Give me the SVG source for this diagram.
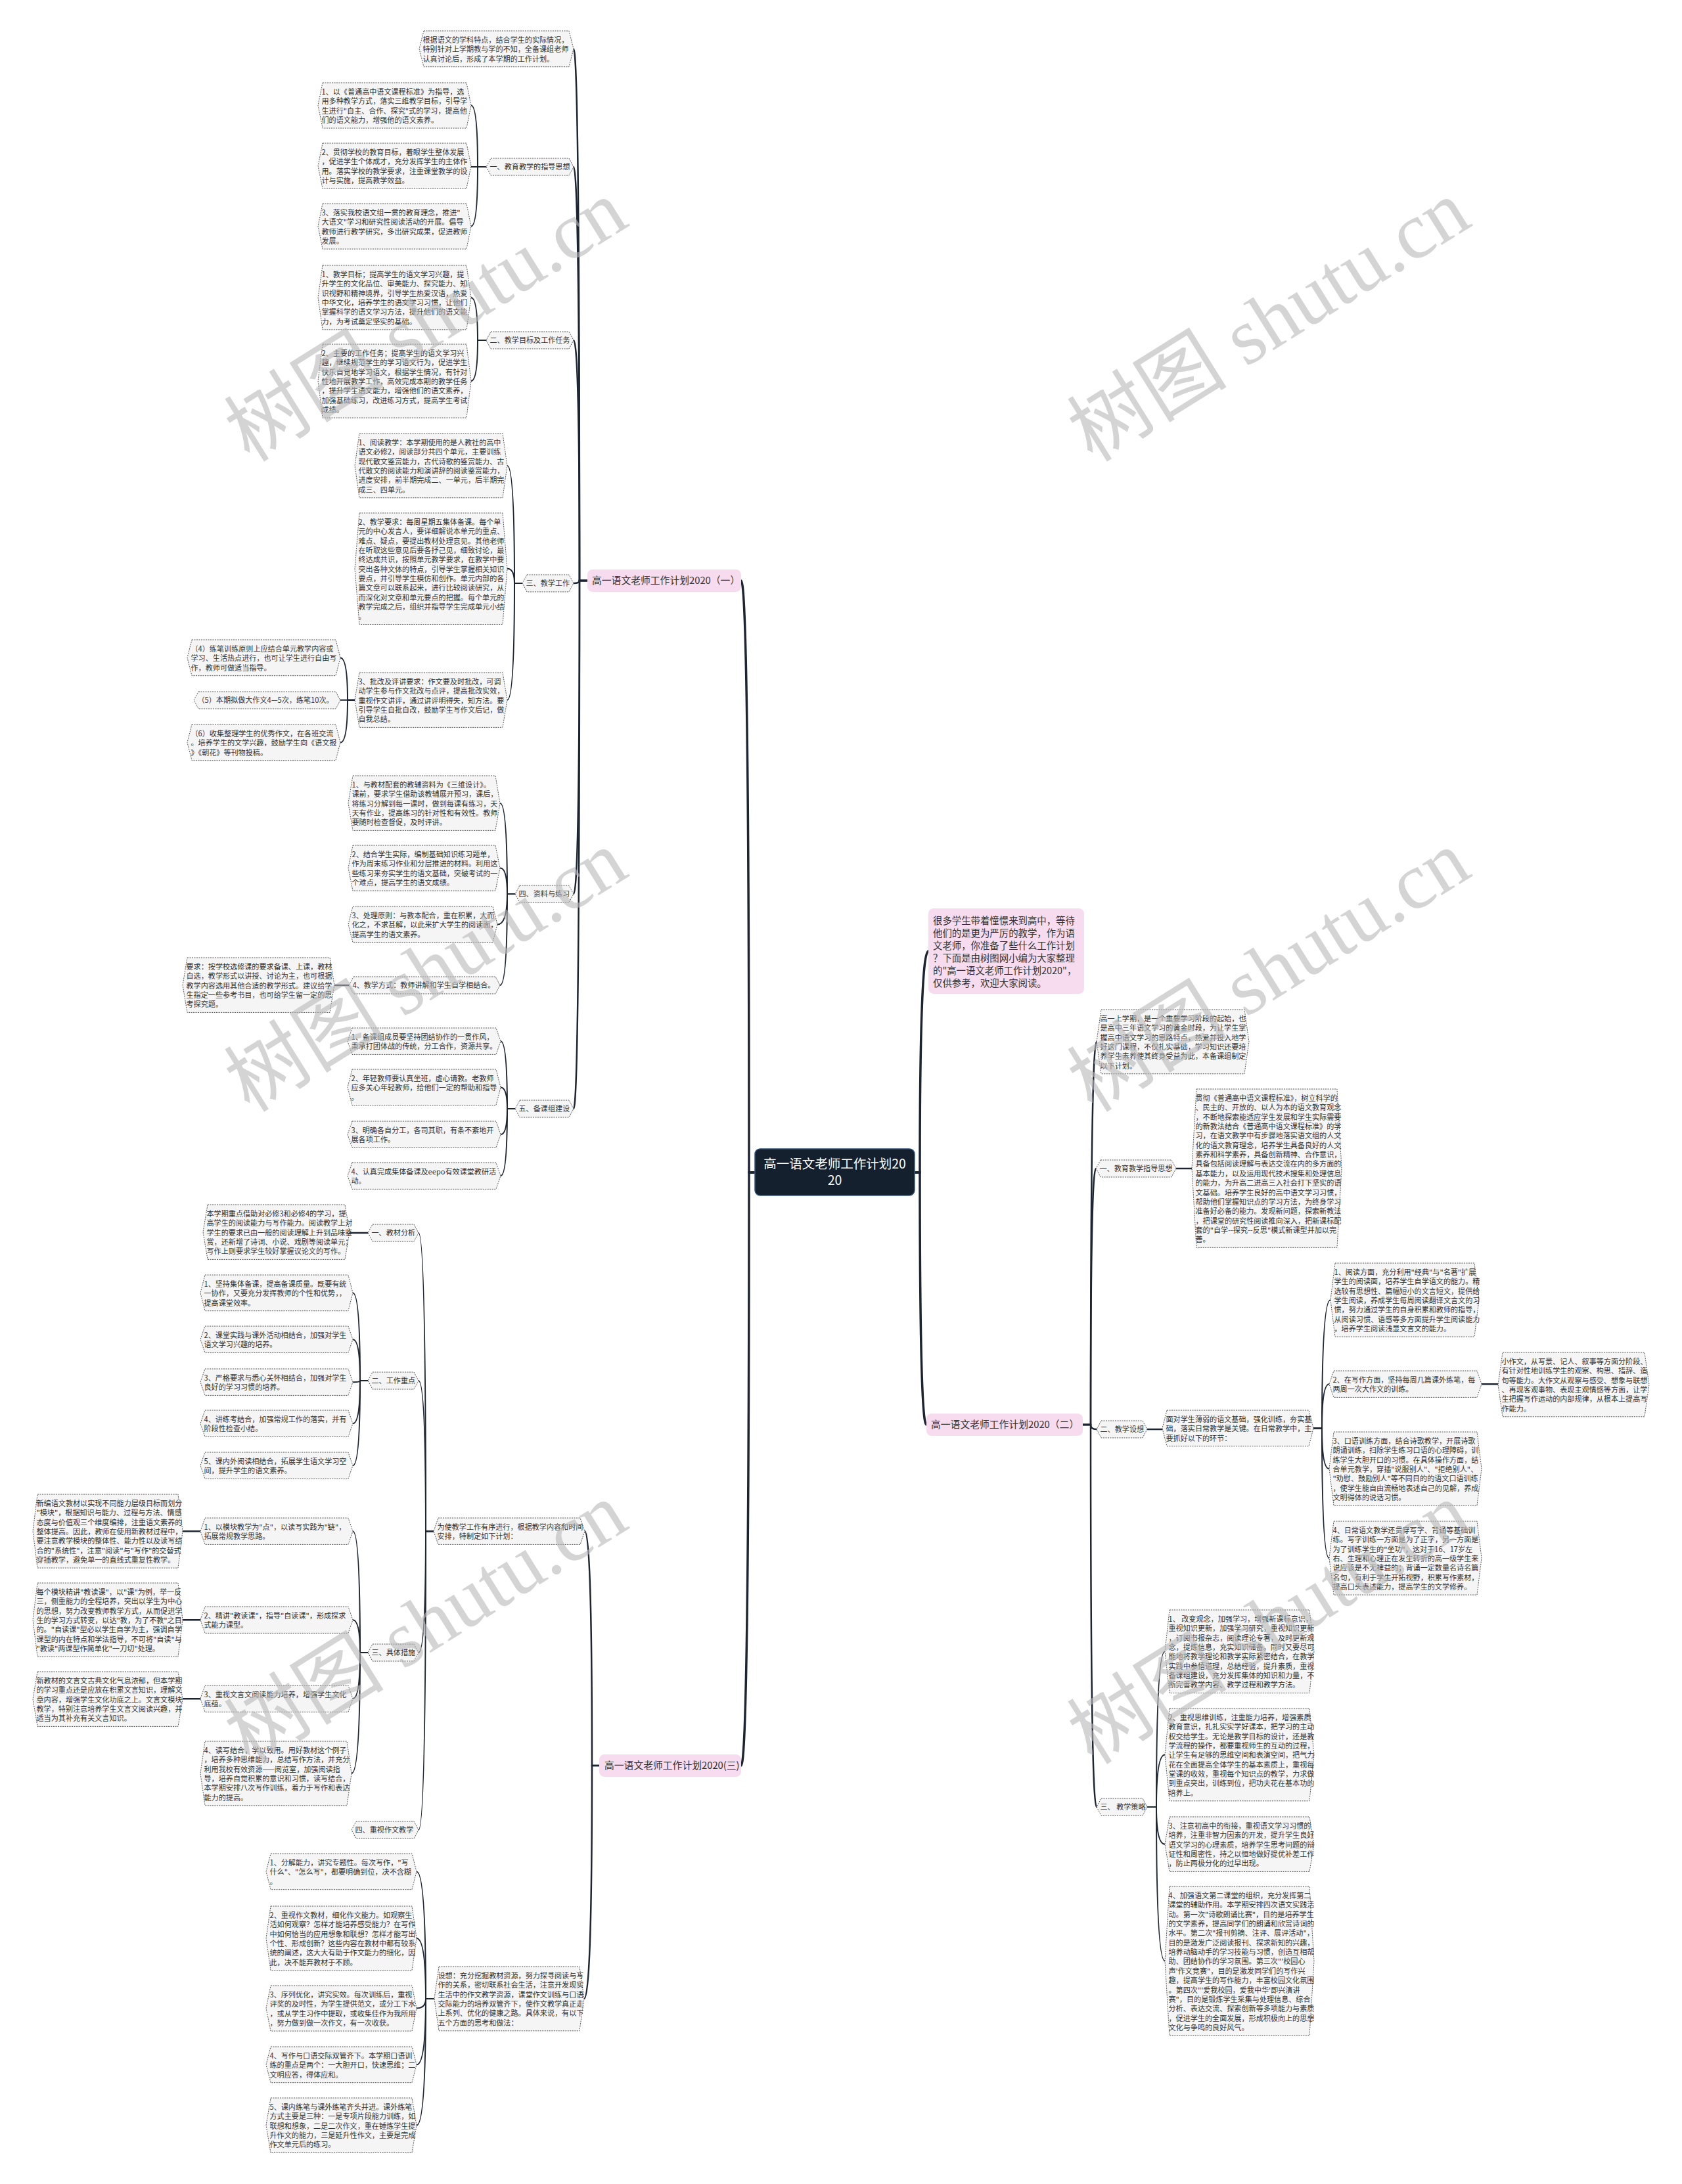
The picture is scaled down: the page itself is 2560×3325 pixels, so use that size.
<svg xmlns="http://www.w3.org/2000/svg" width="2560" height="3325" viewBox="0 0 2560 3325">
<style>
.n{fill:#f5f5f5;stroke:#555;stroke-width:1;stroke-dasharray:2 1.5}
.t{font-family:"Noto Sans CJK SC","Noto Sans",sans-serif;font-size:11.1px;fill:#333}
.p{fill:#f6dcee}
.pt{font-family:"Noto Sans CJK SC","Noto Sans",sans-serif;font-size:14.8px;fill:#333}
.c{fill:none;stroke:#1d2533;stroke-linecap:round}
.c1{stroke-width:3.5}
.c2{stroke-width:2.5}
.c3{stroke-width:2}
.wm{font-family:"Liberation Serif","Noto Sans CJK SC",serif;font-size:122px;fill:#b8b8b8;fill-opacity:0.6}
</style>
<rect width="2560" height="3325" fill="#ffffff"/>

<g id="connectors">
<path class="c c1" d="M1149,1785 H1140 Q1140,884 1128,884"/>
<path class="c c1" d="M1149,1785 H1140 Q1140,2688 1128,2688"/>
<path class="c c1" d="M1392,1785 H1400 Q1400,1448 1413,1448"/>
<path class="c c1" d="M1392,1785 H1400 Q1400,2169 1410,2169"/>

<path class="c c2" d="M894,884 H882 Q882,74.4 873,74.4"/>
<path class="c c2" d="M894,884 H882 Q882,254 873,254"/>
<path class="c c2" d="M894,884 H882 Q882,518 873,518"/>
<path class="c c2" d="M894,884 H882 Q882,888 873,888"/>
<path class="c c2" d="M894,884 H882 Q882,1361 873,1361"/>
<path class="c c2" d="M894,884 H882 Q882,1688 873,1688"/>

<path class="c c3" d="M740,254 H727 Q727,160.5 717,160.5"/>
<path class="c c3" d="M740,254 H717"/>
<path class="c c3" d="M740,254 H727 Q727,344.5 717,344.5"/>
<path class="c c3" d="M740,518 H727 Q727,452.9 717,452.9"/>
<path class="c c3" d="M740,518 H727 Q727,580 717,580"/>
<path class="c c3" d="M795,888 H783 Q783,708.9 772,708.9"/>
<path class="c c3" d="M795,888 H783 Q783,865.8 772,865.8"/>
<path class="c c3" d="M795,888 H783 Q783,1065.7 772,1065.7"/>
<path class="c c3" d="M540,1065.7 H529 Q529,1001.4 518,1001.4"/>
<path class="c c3" d="M540,1065.7 H518"/>
<path class="c c3" d="M540,1065.7 H529 Q529,1130.4 518,1130.4"/>
<path class="c c3" d="M784,1361 H772 Q772,1222.7 761,1222.7"/>
<path class="c c3" d="M784,1361 H772 Q772,1321.5 761,1321.5"/>
<path class="c c3" d="M784,1361 H772 Q772,1407.4 757,1407.4"/>
<path class="c c3" d="M784,1361 H772 Q772,1500 761,1500"/>
<path class="c c2" d="M531,1500 H509"/>
<path class="c c3" d="M784,1688 H772 Q772,1585.2 762,1585.2"/>
<path class="c c3" d="M784,1688 H772 Q772,1655.4 762,1655.4"/>
<path class="c c3" d="M784,1688 H772 Q772,1727.2 762,1727.2"/>
<path class="c c3" d="M784,1688 H772 Q772,1790.2 762,1790.2"/>

<path class="c c2" d="M912,2688 H901 Q901,2331.2 890,2331.2"/>
<path class="c c2" d="M912,2688 H901 Q901,3042.9 889,3042.9"/>
<path class="c c3" d="M660,2331.2 H648 Q648,1877 637,1877"/>
<path class="c c3" d="M660,2331.2 H648 Q648,2102 637,2102"/>
<path class="c c3" d="M660,2331.2 H648 Q648,2516 637,2516"/>
<path class="c c3" d="M660,2331.2 H648 Q648,2786 637,2786"/>
<path class="c c2" d="M560,1877 H532"/>
<path class="c c3" d="M560,2102 H548 Q548,1968.4 537,1968.4"/>
<path class="c c3" d="M560,2102 H548 Q548,2039.2 537,2039.2"/>
<path class="c c3" d="M560,2102 H548 Q548,2104.2 537,2104.2"/>
<path class="c c3" d="M560,2102 H548 Q548,2167.2 537,2167.2"/>
<path class="c c3" d="M560,2102 H548 Q548,2231.2 537,2231.2"/>
<path class="c c3" d="M560,2516 H548 Q548,2331.2 537,2331.2"/>
<path class="c c3" d="M560,2516 H548 Q548,2466.2 537,2466.2"/>
<path class="c c3" d="M560,2516 H548 Q548,2586.2 537,2586.2"/>
<path class="c c3" d="M560,2516 H548 Q548,2699.9 535,2699.9"/>
<path class="c c2" d="M305,2331.2 H278"/>
<path class="c c2" d="M305,2466.2 H278"/>
<path class="c c2" d="M305,2586.2 H278"/>
<path class="c c3" d="M661,3042.9 H648 Q648,2849.4 634,2849.4"/>
<path class="c c3" d="M661,3042.9 H648 Q648,2950.9 634,2950.9"/>
<path class="c c3" d="M661,3042.9 H648 Q648,3057.5 634,3057.5"/>
<path class="c c3" d="M661,3042.9 H648 Q648,3143.4 634,3143.4"/>
<path class="c c3" d="M661,3042.9 H648 Q648,3235.7 634,3235.7"/>

<path class="c c2" d="M1648,2169 H1660 Q1660,1585.9 1669,1585.9"/>
<path class="c c2" d="M1648,2169 H1660 Q1660,1779 1668,1779"/>
<path class="c c2" d="M1648,2169 H1660 Q1660,2176 1669,2176"/>
<path class="c c2" d="M1648,2169 H1660 Q1660,2751 1669,2751"/>
<path class="c c2" d="M1790,1779 H1814"/>
<path class="c c2" d="M1746,2176 H1769"/>
<path class="c c3" d="M1999,2174.4 H2012 Q2012,1979 2025,1979"/>
<path class="c c3" d="M1999,2174.4 H2012 Q2012,2107.2 2023,2107.2"/>
<path class="c c3" d="M1999,2174.4 H2012 Q2012,2236 2023,2236"/>
<path class="c c3" d="M1999,2174.4 H2012 Q2012,2372 2023,2372"/>
<path class="c c2" d="M2255,2107.2 H2280"/>
<path class="c c3" d="M1746,2751 H1760 Q1760,2514.2 1773,2514.2"/>
<path class="c c3" d="M1746,2751 H1760 Q1760,2671.4 1773,2671.4"/>
<path class="c c3" d="M1746,2751 H1760 Q1760,2807.7 1773,2807.7"/>
<path class="c c3" d="M1746,2751 H1760 Q1760,2985.5 1773,2985.5"/>
</g>

<g id="root">
<rect x="1149" y="1749" width="243" height="71" rx="8" fill="#15202e" stroke="#33547e" stroke-width="1.5"/>
<text x="1270.5" y="1779" text-anchor="middle" font-family="Noto Sans CJK SC, sans-serif" font-size="19.5" fill="#ffffff">高一语文老师工作计划20<tspan x="1270.5" dy="25">20</tspan></text>
</g>

<g id="intro">
<rect class="p" x="1413" y="1383" width="237" height="130" rx="8"/>
<text class="pt" style="font-size:14.4px" x="1420" y="1407"><tspan x="1420">很多学生带着憧憬来到高中，等待</tspan><tspan x="1420" dy="19">他们的是更为严厉的教学，作为语</tspan><tspan x="1420" dy="19">文老师，你准备了些什么工作计划</tspan><tspan x="1420" dy="19">？下面是由树图网小编为大家整理</tspan><tspan x="1420" dy="19">的"高一语文老师工作计划2020"，</tspan><tspan x="1420" dy="19">仅供参考，欢迎大家阅读。</tspan></text>
</g>

<g id="b1">
<rect class="p" x="894" y="867" width="234" height="34" rx="8"/>
<text class="pt" x="901" y="889">高一语文老师工作计划2020（一）</text>
</g>
<g id="b2">
<rect class="p" x="1410" y="2152" width="238" height="34" rx="8"/>
<text class="pt" x="1417" y="2174">高一语文老师工作计划2020（二）</text>
</g>
<g id="b3">
<rect class="p" x="912" y="2671" width="216" height="34" rx="8"/>
<text class="pt" x="920" y="2693">高一语文老师工作计划2020(三)</text>
</g>

<g id="A0"><polygon class="n" points="645,47 866,47 873,74.4 866,101.7 645,101.7 638,74.4"/>
<text class="t" y="65"><tspan x="643.5">根据语文的学科特点，结合学生的实际情况，</tspan><tspan x="643.5" dy="14.35">特别针对上学期教与学的不知，全备课组老师</tspan><tspan x="643.5" dy="14.35">认真讨论后，形成了本学期的工作计划。</tspan></text></g>

<g id="B1"><polygon class="n" points="747,241 866,241 873,254 866,267 747,267 740,254"/>
<text class="t" x="745.5" y="258">一、教育教学的指导思想</text></g>
<g id="C1"><polygon class="n" points="491,126 710,126 717,160.5 710,195.1 491,195.1 484,160.5"/>
<text class="t" y="144"><tspan x="489.5">1、以《普通高中语文课程标准》为指导，选</tspan><tspan x="489.5" dy="14.35">用多种教学方式，落实三维教学目标，引导学</tspan><tspan x="489.5" dy="14.35">生进行"自主、合作、探究"式的学习，提高他</tspan><tspan x="489.5" dy="14.35">们的语文能力，增强他的语文素养。</tspan></text></g>
<g id="C2"><polygon class="n" points="491,218 710,218 717,252.5 710,287.1 491,287.1 484,252.5"/>
<text class="t" y="236"><tspan x="489.5">2、贯彻学校的教育目标，着眼学生整体发展</tspan><tspan x="489.5" dy="14.35">，促进学生个体成才，充分发挥学生的主体作</tspan><tspan x="489.5" dy="14.35">用。落实学校的教学要求，注重课堂教学的设</tspan><tspan x="489.5" dy="14.35">计与实施，提高教学效益。</tspan></text></g>
<g id="C3"><polygon class="n" points="491,310 710,310 717,344.5 710,379.1 491,379.1 484,344.5"/>
<text class="t" y="328"><tspan x="489.5">3、落实我校语文组一贯的教育理念，推进"</tspan><tspan x="489.5" dy="14.35">大语文"学习和研究性阅读活动的开展。倡导</tspan><tspan x="489.5" dy="14.35">教师进行教学研究，多出研究成果，促进教师</tspan><tspan x="489.5" dy="14.35">发展。</tspan></text></g>

<g id="B2"><polygon class="n" points="747,505 866,505 873,518 866,531 747,531 740,518"/>
<text class="t" x="745.5" y="522">二、教学目标及工作任务</text></g>
<g id="C4"><polygon class="n" points="491,404 710,404 717,452.9 710,501.8 491,501.8 484,452.9"/>
<text class="t" y="422"><tspan x="489.5">1、教学目标；提高学生的语文学习兴趣，提</tspan><tspan x="489.5" dy="14.35">升学生的文化品位、审美能力、探究能力、知</tspan><tspan x="489.5" dy="14.35">识视野和精神境界，引导学生热爱汉语，热爱</tspan><tspan x="489.5" dy="14.35">中华文化，培养学生的语文学习习惯，让他们</tspan><tspan x="489.5" dy="14.35">掌握科学的语文学习方法，提升他们的语文能</tspan><tspan x="489.5" dy="14.35">力，为考试奠定坚实的基础。</tspan></text></g>
<g id="C5"><polygon class="n" points="491,524 710,524 717,580 710,636.1 491,636.1 484,580"/>
<text class="t" y="542"><tspan x="489.5">2、主要的工作任务；提高学生的语文学习兴</tspan><tspan x="489.5" dy="14.35">趣，继续规范学生的学习语文行为，促进学生</tspan><tspan x="489.5" dy="14.35">快乐自觉地学习语文，根据学生情况，有针对</tspan><tspan x="489.5" dy="14.35">性地开展教学工作，高效完成本期的教学任务</tspan><tspan x="489.5" dy="14.35">，提升学生语文能力，增强他们的语文素养，</tspan><tspan x="489.5" dy="14.35">加强基础练习，改进练习方式，提高学生考试</tspan><tspan x="489.5" dy="14.35">成绩。</tspan></text></g>

<g id="B3"><polygon class="n" points="802,875 866,875 873,888 866,901 802,901 795,888"/>
<text class="t" x="800.5" y="892">三、教学工作</text></g>
<g id="C6"><polygon class="n" points="547,660 765,660 772,708.9 765,757.8 547,757.8 540,708.9"/>
<text class="t" y="678"><tspan x="545.5">1、阅读教学：本学期使用的是人教社的高中</tspan><tspan x="545.5" dy="14.35">语文必修2，阅读部分共四个单元，主要训练</tspan><tspan x="545.5" dy="14.35">现代散文鉴赏能力，古代诗歌的鉴赏能力、古</tspan><tspan x="545.5" dy="14.35">代散文的阅读能力和演讲辞的阅读鉴赏能力，</tspan><tspan x="545.5" dy="14.35">进度安排，前半期完成二、一单元，后半期完</tspan><tspan x="545.5" dy="14.35">成三、四单元。</tspan></text></g>
<g id="C7"><polygon class="n" points="547,781 765,781 772,865.8 765,950.5 547,950.5 540,865.8"/>
<text class="t" y="799"><tspan x="545.5">2、教学要求：每周星期五集体备课。每个单</tspan><tspan x="545.5" dy="14.35">元的中心发言人，要详细解说本单元的重点、</tspan><tspan x="545.5" dy="14.35">难点、疑点，要提出教材处理意见。其他老师</tspan><tspan x="545.5" dy="14.35">在听取这些意见后要各抒己见，细致讨论，最</tspan><tspan x="545.5" dy="14.35">终达成共识，按照单元教学要求，在教学中要</tspan><tspan x="545.5" dy="14.35">突出各种文体的特点，引导学生掌握相关知识</tspan><tspan x="545.5" dy="14.35">要点，并引导学生模仿和创作。单元内部的各</tspan><tspan x="545.5" dy="14.35">篇文章可以联系起来，进行比较阅读研究，从</tspan><tspan x="545.5" dy="14.35">而深化对文章和单元要点的把握。每个单元的</tspan><tspan x="545.5" dy="14.35">教学完成之后，组织并指导学生完成单元小结</tspan><tspan x="545.5" dy="14.35">。</tspan></text></g>
<g id="C8"><polygon class="n" points="547,1024 765,1024 772,1065.7 765,1107.4 547,1107.4 540,1065.7"/>
<text class="t" y="1042"><tspan x="545.5">3、批改及评讲要求：作文要及时批改，可调</tspan><tspan x="545.5" dy="14.35">动学生参与作文批改与点评，提高批改实效，</tspan><tspan x="545.5" dy="14.35">重视作文讲评，通过讲评明得失，知方法。要</tspan><tspan x="545.5" dy="14.35">引导学生自批自改，鼓励学生写作文后记，做</tspan><tspan x="545.5" dy="14.35">自我总结。</tspan></text></g>
<g id="D1"><polygon class="n" points="292,974 511,974 518,1001.4 511,1028.7 292,1028.7 285,1001.4"/>
<text class="t" y="992"><tspan x="290.5">（4）练笔训练原则上应结合单元教学内容或</tspan><tspan x="290.5" dy="14.35">学习、生活热点进行，也可让学生进行自由写</tspan><tspan x="290.5" dy="14.35">作，教师可做适当指导。</tspan></text></g>
<g id="D2"><polygon class="n" points="302,1053 511,1053 518,1066 511,1079 302,1079 295,1066"/>
<text class="t" x="300.5" y="1070">（5）本期拟做大作文4—5次，练笔10次。</text></g>
<g id="D3"><polygon class="n" points="292,1103 511,1103 518,1130.4 511,1157.7 292,1157.7 285,1130.4"/>
<text class="t" y="1121"><tspan x="290.5">（6）收集整理学生的优秀作文，在各班交流</tspan><tspan x="290.5" dy="14.35">。培养学生的文学兴趣，鼓励学生向《语文报</tspan><tspan x="290.5" dy="14.35">》《朝花》等刊物投稿。</tspan></text></g>

<g id="B4"><polygon class="n" points="791,1348 866,1348 873,1361 866,1374 791,1374 784,1361"/>
<text class="t" x="789.5" y="1365">四、资料与练习</text></g>
<g id="C9"><polygon class="n" points="537,1181 754,1181 761,1222.7 754,1264.4 537,1264.4 530,1222.7"/>
<text class="t" y="1199"><tspan x="535.5">1、与教材配套的教辅资料为《三维设计》。</tspan><tspan x="535.5" dy="14.35">课前，要求学生借助该教辅展开预习，课后，</tspan><tspan x="535.5" dy="14.35">将练习分解到每一课时，做到每课有练习，天</tspan><tspan x="535.5" dy="14.35">天有作业，提高练习的针对性和有效性。教师</tspan><tspan x="535.5" dy="14.35">要随时检查督促，及时评讲。</tspan></text></g>
<g id="C10"><polygon class="n" points="537,1287 754,1287 761,1321.5 754,1356.1 537,1356.1 530,1321.5"/>
<text class="t" y="1305"><tspan x="535.5">2、结合学生实际，编制基础知识练习题单，</tspan><tspan x="535.5" dy="14.35">作为周末练习作业和分层推进的材料。利用这</tspan><tspan x="535.5" dy="14.35">些练习来夯实学生的语文基础，突破考试的一</tspan><tspan x="535.5" dy="14.35">个难点，提高学生的语文成绩。</tspan></text></g>
<g id="C11"><polygon class="n" points="537,1380 750,1380 757,1407.4 750,1434.7 537,1434.7 530,1407.4"/>
<text class="t" y="1398"><tspan x="535.5">3、处理原则：与教本配合，重在积累，大而</tspan><tspan x="535.5" dy="14.35">化之，不求甚解，以此来扩大学生的阅读面，</tspan><tspan x="535.5" dy="14.35">提高学生的语文素养。</tspan></text></g>
<g id="C12"><polygon class="n" points="538,1487 754,1487 761,1500 754,1513 538,1513 531,1500"/>
<text class="t" x="536.5" y="1504">4、教学方式：教师讲解和学生自学相结合。</text></g>
<g id="D4"><polygon class="n" points="285,1458 502,1458 509,1499.7 502,1541.4 285,1541.4 278,1499.7"/>
<text class="t" y="1476"><tspan x="283.5">要求：按学校选修课的要求备课、上课，教材</tspan><tspan x="283.5" dy="14.35">自选，教学形式以讲授、讨论为主，也可根据</tspan><tspan x="283.5" dy="14.35">教学内容选用其他合适的教学形式。建议给学</tspan><tspan x="283.5" dy="14.35">生指定一些参考书目，也可给学生留一定的思</tspan><tspan x="283.5" dy="14.35">考探究题。</tspan></text></g>

<g id="B5"><polygon class="n" points="791,1675 866,1675 873,1688 866,1701 791,1701 784,1688"/>
<text class="t" x="789.5" y="1692">五、备课组建设</text></g>
<g id="C13"><polygon class="n" points="536,1565 755,1565 762,1585.2 755,1605.4 536,1605.4 529,1585.2"/>
<text class="t" y="1583"><tspan x="534.5">1、备课组成员要坚持团结协作的一贯作风，</tspan><tspan x="534.5" dy="14.35">秉承打团体战的传统，分工合作，资源共享。</tspan></text></g>
<g id="C14"><polygon class="n" points="536,1628 755,1628 762,1655.4 755,1682.7 536,1682.7 529,1655.4"/>
<text class="t" y="1646"><tspan x="534.5">2、年轻教师要认真坐班，虚心请教。老教师</tspan><tspan x="534.5" dy="14.35">应多关心年轻教师，给他们一定的帮助和指导</tspan><tspan x="534.5" dy="14.35">。</tspan></text></g>
<g id="C15"><polygon class="n" points="536,1707 755,1707 762,1727.2 755,1747.4 536,1747.4 529,1727.2"/>
<text class="t" y="1725"><tspan x="534.5">3、明确各自分工，各司其职，有条不紊地开</tspan><tspan x="534.5" dy="14.35">展各项工作。</tspan></text></g>
<g id="C16"><polygon class="n" points="536,1770 755,1770 762,1790.2 755,1810.4 536,1810.4 529,1790.2"/>
<text class="t" y="1788"><tspan x="534.5">4、认真完成集体备课及eepo有效课堂教研活</tspan><tspan x="534.5" dy="14.35">动。</tspan></text></g>

<g id="E0"><polygon class="n" points="667,2311 883,2311 890,2331.2 883,2351.4 667,2351.4 660,2331.2"/>
<text class="t" y="2329"><tspan x="665.5">为使教学工作有序进行，根据教学内容和时间</tspan><tspan x="665.5" dy="14.35">安排，特制定如下计划：</tspan></text></g>
<g id="E1"><polygon class="n" points="567,1864 630,1864 637,1877 630,1890 567,1890 560,1877"/>
<text class="t" x="565.5" y="1881">一、教材分析</text></g>
<g id="F1"><polygon class="n" points="316,1834 525,1834 532,1875.7 525,1917.4 316,1917.4 309,1875.7"/>
<text class="t" y="1852"><tspan x="314.5">本学期重点借助对必修3和必修4的学习，提</tspan><tspan x="314.5" dy="14.35">高学生的阅读能力与写作能力。阅读教学上对</tspan><tspan x="314.5" dy="14.35">学生的要求已由一般的阅读理解上升到品味鉴</tspan><tspan x="314.5" dy="14.35">赏，还新增了诗词、小说、戏剧等阅读单元；</tspan><tspan x="314.5" dy="14.35">写作上则要求学生较好掌握议论文的写作。</tspan></text></g>
<g id="E2"><polygon class="n" points="567,2089 630,2089 637,2102 630,2115 567,2115 560,2102"/>
<text class="t" x="565.5" y="2106">二、工作重点</text></g>
<g id="F2"><polygon class="n" points="312,1941 530,1941 537,1968.4 530,1995.7 312,1995.7 305,1968.4"/>
<text class="t" y="1959"><tspan x="310.5">1、坚持集体备课，提高备课质量。既要有统</tspan><tspan x="310.5" dy="14.35">一协作，又要充分发挥教师的个性和优势，，</tspan><tspan x="310.5" dy="14.35">提高课堂效率。</tspan></text></g>
<g id="F3"><polygon class="n" points="312,2019 530,2019 537,2039.2 530,2059.4 312,2059.4 305,2039.2"/>
<text class="t" y="2037"><tspan x="310.5">2、课堂实践与课外活动相结合，加强对学生</tspan><tspan x="310.5" dy="14.35">语文学习兴趣的培养。</tspan></text></g>
<g id="F4"><polygon class="n" points="312,2084 530,2084 537,2104.2 530,2124.4 312,2124.4 305,2104.2"/>
<text class="t" y="2102"><tspan x="310.5">3、严格要求与悉心关怀相结合，加强对学生</tspan><tspan x="310.5" dy="14.35">良好的学习习惯的培养。</tspan></text></g>
<g id="F5"><polygon class="n" points="312,2147 530,2147 537,2167.2 530,2187.4 312,2187.4 305,2167.2"/>
<text class="t" y="2165"><tspan x="310.5">4、讲练考结合，加强常规工作的落实，并有</tspan><tspan x="310.5" dy="14.35">阶段性检查小结。</tspan></text></g>
<g id="F6"><polygon class="n" points="312,2211 530,2211 537,2231.2 530,2251.4 312,2251.4 305,2231.2"/>
<text class="t" y="2229"><tspan x="310.5">5、课内外阅读相结合，拓展学生语文学习空</tspan><tspan x="310.5" dy="14.35">间，提升学生的语文素养。</tspan></text></g>
<g id="E3"><polygon class="n" points="567,2503 630,2503 637,2516 630,2529 567,2529 560,2516"/>
<text class="t" x="565.5" y="2520">三、具体措施</text></g>
<g id="F7"><polygon class="n" points="312,2311 530,2311 537,2331.2 530,2351.4 312,2351.4 305,2331.2"/>
<text class="t" y="2329"><tspan x="310.5">1、以模块教学为"点"，以读写实践为"链"，</tspan><tspan x="310.5" dy="14.35">拓展常规教学思路。</tspan></text></g>
<g id="G1"><polygon class="n" points="57,2275 271,2275 278,2331 271,2387.1 57,2387.1 50,2331"/>
<text class="t" y="2293"><tspan x="55.5">新编语文教材以实现不同能力层级目标而划分</tspan><tspan x="55.5" dy="14.35">"模块"，根据知识与能力、过程与方法、情感</tspan><tspan x="55.5" dy="14.35">态度与价值观三个维度编排，注重语文素养的</tspan><tspan x="55.5" dy="14.35">整体提高。因此，教师在使用新教材过程中，</tspan><tspan x="55.5" dy="14.35">要注意教学模块的整体性、能力性以及读写结</tspan><tspan x="55.5" dy="14.35">合的"系统性"，注意"阅读"与"写作"的交替式</tspan><tspan x="55.5" dy="14.35">穿插教学，避免单一的直线式重复性教学。</tspan></text></g>
<g id="F8"><polygon class="n" points="312,2446 530,2446 537,2466.2 530,2486.4 312,2486.4 305,2466.2"/>
<text class="t" y="2464"><tspan x="310.5">2、精讲"教读课"，指导"自读课"，形成探求</tspan><tspan x="310.5" dy="14.35">式能力课型。</tspan></text></g>
<g id="G2"><polygon class="n" points="57,2410 271,2410 278,2466 271,2522.1 57,2522.1 50,2466"/>
<text class="t" y="2428"><tspan x="55.5">每个模块精讲"教读课"，以"课"为例，举一反</tspan><tspan x="55.5" dy="14.35">三，侧重能力的全程培养，突出以学生为中心</tspan><tspan x="55.5" dy="14.35">的思想，努力改变教师教学方式，从而促进学</tspan><tspan x="55.5" dy="14.35">生的学习方式转变，以达"教，为了不教"之目</tspan><tspan x="55.5" dy="14.35">的。"自读课"型必以学生自学为主，强调自学</tspan><tspan x="55.5" dy="14.35">课型的内在特点和学法指导，不可将"自读"与</tspan><tspan x="55.5" dy="14.35">"教读"两课型作简单化"一刀切"处理。</tspan></text></g>
<g id="F9"><polygon class="n" points="312,2566 530,2566 537,2586.2 530,2606.4 312,2606.4 305,2586.2"/>
<text class="t" y="2584"><tspan x="310.5">3、重视文言文阅读能力培养，增强学生文化</tspan><tspan x="310.5" dy="14.35">底蕴。</tspan></text></g>
<g id="G3"><polygon class="n" points="57,2545 271,2545 278,2586.7 271,2628.4 57,2628.4 50,2586.7"/>
<text class="t" y="2563"><tspan x="55.5">新教材的文言文古典文化气息浓郁，但本学期</tspan><tspan x="55.5" dy="14.35">的学习重点还是应放在积累文言知识，理解文</tspan><tspan x="55.5" dy="14.35">章内容，增强学生文化功底之上。文言文模块</tspan><tspan x="55.5" dy="14.35">教学，特别注意培养学生文言文阅读兴趣，并</tspan><tspan x="55.5" dy="14.35">适当为其补充有关文言知识。</tspan></text></g>
<g id="F10"><polygon class="n" points="312,2651 528,2651 535,2699.9 528,2748.8 312,2748.8 305,2699.9"/>
<text class="t" y="2669"><tspan x="310.5">4、读写结合，学以致用。用好教材这个例子</tspan><tspan x="310.5" dy="14.35">，培养多种思维能力，总结写作方法，并充分</tspan><tspan x="310.5" dy="14.35">利用我校有效资源——阅览室，加强阅读指</tspan><tspan x="310.5" dy="14.35">导，培养自觉积累的意识和习惯，读写结合，</tspan><tspan x="310.5" dy="14.35">本学期安排八次写作训练，着力于写作和表达</tspan><tspan x="310.5" dy="14.35">能力的提高。</tspan></text></g>
<g id="E4"><polygon class="n" points="542,2773 630,2773 637,2786 630,2799 542,2799 535,2786"/>
<text class="t" x="540.5" y="2790">四、重视作文教学</text></g>
<g id="E5"><polygon class="n" points="668,2994 882,2994 889,3042.9 882,3091.8 668,3091.8 661,3042.9"/>
<text class="t" y="3012"><tspan x="666.5">设想：充分挖掘教材资源，努力探寻阅读与写</tspan><tspan x="666.5" dy="14.35">作的关系，密切联系社会生活，注意开发现实</tspan><tspan x="666.5" dy="14.35">生活中的作文教学资源，课堂作文训练与口语</tspan><tspan x="666.5" dy="14.35">交际能力的培养双管齐下，使作文教学真正走</tspan><tspan x="666.5" dy="14.35">上系列、优化的健康之路。具体来说，有以下</tspan><tspan x="666.5" dy="14.35">五个方面的思考和做法：</tspan></text></g>
<g id="H1"><polygon class="n" points="412,2822 627,2822 634,2849.4 627,2876.7 412,2876.7 405,2849.4"/>
<text class="t" y="2840"><tspan x="410.5">1、分解能力，讲究专题性。每次写作，"写</tspan><tspan x="410.5" dy="14.35">什么"、"怎么写"，都要明确到位，决不含糊</tspan><tspan x="410.5" dy="14.35">。</tspan></text></g>
<g id="H2"><polygon class="n" points="412,2902 627,2902 634,2950.9 627,2999.8 412,2999.8 405,2950.9"/>
<text class="t" y="2920"><tspan x="410.5">2、重视作文教材，细化作文能力。如观察生</tspan><tspan x="410.5" dy="14.35">活如何观察？怎样才能培养感受能力？在写作</tspan><tspan x="410.5" dy="14.35">中如何恰当的应用想象和联想？怎样才能写出</tspan><tspan x="410.5" dy="14.35">个性、形成创新？这些内容在教材中都有较系</tspan><tspan x="410.5" dy="14.35">统的阐述，这大大有助于作文能力的细化，因</tspan><tspan x="410.5" dy="14.35">此，决不能弃教材于不顾。</tspan></text></g>
<g id="H3"><polygon class="n" points="412,3023 627,3023 634,3057.5 627,3092.1 412,3092.1 405,3057.5"/>
<text class="t" y="3041"><tspan x="410.5">3、序列优化，讲究实效。每次训练后，重视</tspan><tspan x="410.5" dy="14.35">评奖的及时性，为学生提供范文，或分工下水</tspan><tspan x="410.5" dy="14.35">，或从学生习作中提取，或收集佳作为我所用</tspan><tspan x="410.5" dy="14.35">，努力做到做一次作文，有一次收获。</tspan></text></g>
<g id="H4"><polygon class="n" points="412,3116 627,3116 634,3143.4 627,3170.7 412,3170.7 405,3143.4"/>
<text class="t" y="3134"><tspan x="410.5">4、写作与口语交际双管齐下。本学期口语训</tspan><tspan x="410.5" dy="14.35">练的重点是两个：一大胆开口，快速思维；二</tspan><tspan x="410.5" dy="14.35">文明应答，得体应和。</tspan></text></g>
<g id="H5"><polygon class="n" points="412,3194 627,3194 634,3235.7 627,3277.4 412,3277.4 405,3235.7"/>
<text class="t" y="3212"><tspan x="410.5">5、课内练笔与课外练笔齐头并进。课外练笔</tspan><tspan x="410.5" dy="14.35">方式主要是三种：一是专项片段能力训练，如</tspan><tspan x="410.5" dy="14.35">联想和想象，二是二次作文，重在锤炼学生提</tspan><tspan x="410.5" dy="14.35">升作文的能力，三是延升性作文，主要是完成</tspan><tspan x="410.5" dy="14.35">作文单元后的练习。</tspan></text></g>

<g id="R0"><polygon class="n" points="1676,1537 1894,1537 1901,1585.9 1894,1634.8 1676,1634.8 1669,1585.9"/>
<text class="t" y="1555"><tspan x="1674.5">高一上学期，是一个重要学习阶段的起始，也</tspan><tspan x="1674.5" dy="14.35">是高中三年语文学习的黄金时段，为让学生掌</tspan><tspan x="1674.5" dy="14.35">握高中语文学习的思路特点，热爱并投入地学</tspan><tspan x="1674.5" dy="14.35">好这门课程，不仅扎实基础，学习知识还要培</tspan><tspan x="1674.5" dy="14.35">养学生素养使其终身受益为此，本备课组制定</tspan><tspan x="1674.5" dy="14.35">以下计划。</tspan></text></g>
<g id="R1"><polygon class="n" points="1675,1766 1783,1766 1790,1779 1783,1792 1675,1792 1668,1779"/>
<text class="t" x="1673.5" y="1783">一、教育教学指导思想</text></g>
<g id="S1"><polygon class="n" points="1821,1658 2035,1658 2042,1778.6 2035,1899.3 1821,1899.3 1814,1778.6"/>
<text class="t" y="1676"><tspan x="1819.5">贯彻《普通高中语文课程标准》，树立科学的</tspan><tspan x="1819.5" dy="14.35">、民主的、开放的、以人为本的语文教育观念</tspan><tspan x="1819.5" dy="14.35">，不断地探索能适应学生发展和学生实际需要</tspan><tspan x="1819.5" dy="14.35">的新教法结合《普通高中语文课程标准》的学</tspan><tspan x="1819.5" dy="14.35">习，在语文教学中有步骤地落实语文组的人文</tspan><tspan x="1819.5" dy="14.35">化的语文教育理念，培养学生具备良好的人文</tspan><tspan x="1819.5" dy="14.35">素养和科学素养，具备创新精神、合作意识，</tspan><tspan x="1819.5" dy="14.35">具备包括阅读理解与表达交流在内的多方面的</tspan><tspan x="1819.5" dy="14.35">基本能力，以及运用现代技术搜集和处理信息</tspan><tspan x="1819.5" dy="14.35">的能力，为升高二进高三入社会打下坚实的语</tspan><tspan x="1819.5" dy="14.35">文基础。培养学生良好的高中语文学习习惯，</tspan><tspan x="1819.5" dy="14.35">帮助他们掌握知识点的学习方法，为终身学习</tspan><tspan x="1819.5" dy="14.35">准备好必备的能力。发现新问题，探索新教法</tspan><tspan x="1819.5" dy="14.35">，把课堂的研究性阅读推向深入，把新课标配</tspan><tspan x="1819.5" dy="14.35">套的"自学--探究--反思"模式新课型并加以完</tspan><tspan x="1819.5" dy="14.35">善。</tspan></text></g>
<g id="R2"><polygon class="n" points="1676,2163 1739,2163 1746,2176 1739,2189 1676,2189 1669,2176"/>
<text class="t" x="1674.5" y="2180">二、教学设想</text></g>
<g id="S3"><polygon class="n" points="1776,2147 1992,2147 1999,2174.4 1992,2201.7 1776,2201.7 1769,2174.4"/>
<text class="t" y="2165"><tspan x="1774.5">面对学生薄弱的语文基础，强化训练，夯实基</tspan><tspan x="1774.5" dy="14.35">础，落实日常教学是关键。在日常教学中，主</tspan><tspan x="1774.5" dy="14.35">要抓好以下的环节：</tspan></text></g>
<g id="S2"><polygon class="n" points="2032,1923 2244,1923 2251,1979 2244,2035.1 2032,2035.1 2025,1979"/>
<text class="t" y="1941"><tspan x="2030.5">1、阅读方面，充分利用"经典"与"名著"扩展</tspan><tspan x="2030.5" dy="14.35">学生的阅读面，培养学生自学语文的能力。精</tspan><tspan x="2030.5" dy="14.35">选较有思想性、篇幅短小的文言短文，提供给</tspan><tspan x="2030.5" dy="14.35">学生阅读，养成学生每周阅读翻译文言文的习</tspan><tspan x="2030.5" dy="14.35">惯，努力通过学生的自身积累和教师的指导，</tspan><tspan x="2030.5" dy="14.35">从阅读习惯、语感等多方面提升学生阅读能力</tspan><tspan x="2030.5" dy="14.35">，培养学生阅读浅显文言文的能力。</tspan></text></g>
<g id="T2"><polygon class="n" points="2030,2087 2248,2087 2255,2107.2 2248,2127.4 2030,2127.4 2023,2107.2"/>
<text class="t" y="2105"><tspan x="2028.5">2、在写作方面，坚持每周几篇课外练笔，每</tspan><tspan x="2028.5" dy="14.35">两周一次大作文的训练。</tspan></text></g>
<g id="U1"><polygon class="n" points="2287,2059 2503,2059 2510,2107.9 2503,2156.8 2287,2156.8 2280,2107.9"/>
<text class="t" y="2077"><tspan x="2285.5">小作文，从写景、记人、叙事等方面分阶段、</tspan><tspan x="2285.5" dy="14.35">有针对性地训练学生的观察、构思、措辞、造</tspan><tspan x="2285.5" dy="14.35">句等能力。大作文从观察与感受、想象与联想</tspan><tspan x="2285.5" dy="14.35">、再现客观事物、表现主观情感等方面，让学</tspan><tspan x="2285.5" dy="14.35">生把握写作运动的内部规律，从根本上提高写</tspan><tspan x="2285.5" dy="14.35">作能力。</tspan></text></g>
<g id="T3"><polygon class="n" points="2030,2180 2248,2180 2255,2236 2248,2292.1 2030,2292.1 2023,2236"/>
<text class="t" y="2198"><tspan x="2028.5">3、口语训练方面，结合诗歌教学，开展诗歌</tspan><tspan x="2028.5" dy="14.35">朗诵训练，扫除学生练习口语的心理障碍，训</tspan><tspan x="2028.5" dy="14.35">练学生大胆开口的习惯。在具体操作方面，结</tspan><tspan x="2028.5" dy="14.35">合单元教学，穿插"说服别人"、"拒绝别人"、</tspan><tspan x="2028.5" dy="14.35">"劝慰、鼓励别人"等不同目的的语文口语训练</tspan><tspan x="2028.5" dy="14.35">，使学生能自由流畅地表述自己的见解，养成</tspan><tspan x="2028.5" dy="14.35">文明得体的说话习惯。</tspan></text></g>
<g id="T4"><polygon class="n" points="2030,2316 2248,2316 2255,2372 2248,2428.1 2030,2428.1 2023,2372"/>
<text class="t" y="2334"><tspan x="2028.5">4、日常语文教学还贯穿写字、背诵等基础训</tspan><tspan x="2028.5" dy="14.35">练。写字训练一方面是为了正字，另一方面是</tspan><tspan x="2028.5" dy="14.35">为了训练学生的"坐功"，这对于16、17岁左</tspan><tspan x="2028.5" dy="14.35">右、生理和心理正在发生转折的高一级学生来</tspan><tspan x="2028.5" dy="14.35">说应该是不无裨益的；背诵一定数量名诗名篇</tspan><tspan x="2028.5" dy="14.35">名句，有利于学生开拓视野，积累写作素材，</tspan><tspan x="2028.5" dy="14.35">提高口头表述能力，提高学生的文学修养。</tspan></text></g>
<g id="R3"><polygon class="n" points="1676,2738 1739,2738 1746,2751 1739,2764 1676,2764 1669,2751"/>
<text class="t" x="1674.5" y="2755">三、 教学策略</text></g>
<g id="S4"><polygon class="n" points="1780,2451 1993,2451 2000,2514.2 1993,2577.5 1780,2577.5 1773,2514.2"/>
<text class="t" y="2469"><tspan x="1778.5">1、 改变观念，加强学习，增强新课标意识，</tspan><tspan x="1778.5" dy="14.35">重视知识更新，加强学习研究，重视知识更新</tspan><tspan x="1778.5" dy="14.35">，订阅书报杂志，阅读理论专著，及时更新观</tspan><tspan x="1778.5" dy="14.35">念，提炼信息，充实知识储备。同时又要尽可</tspan><tspan x="1778.5" dy="14.35">能地将教学理论和教学实际紧密结合，在教学</tspan><tspan x="1778.5" dy="14.35">实践中参悟道理，总结经验，提升素质，重视</tspan><tspan x="1778.5" dy="14.35">备课组建设，充分发挥集体的知识和力量，不</tspan><tspan x="1778.5" dy="14.35">断完善教学内容、教学过程和教学方法。</tspan></text></g>
<g id="S5"><polygon class="n" points="1780,2601 1993,2601 2000,2671.4 1993,2741.8 1780,2741.8 1773,2671.4"/>
<text class="t" y="2619"><tspan x="1778.5">2、重视思维训练，注重能力培养，增强素质</tspan><tspan x="1778.5" dy="14.35">教育意识，扎扎实实学好课本，把学习的主动</tspan><tspan x="1778.5" dy="14.35">权交给学生。无论是教学目标的设计，还是教</tspan><tspan x="1778.5" dy="14.35">学流程的操作，都要重视师生的互动的过程，</tspan><tspan x="1778.5" dy="14.35">让学生有足够的思维空间和表演空间，把气力</tspan><tspan x="1778.5" dy="14.35">花在全面提高全体学生的基本素质上，重视每</tspan><tspan x="1778.5" dy="14.35">堂课的收效，重视每个知识点的教学，力求做</tspan><tspan x="1778.5" dy="14.35">到重点突出，训练到位，把功夫花在基本功的</tspan><tspan x="1778.5" dy="14.35">培养上。</tspan></text></g>
<g id="S6"><polygon class="n" points="1780,2766 1993,2766 2000,2807.7 1993,2849.4 1780,2849.4 1773,2807.7"/>
<text class="t" y="2784"><tspan x="1778.5">3、注意初高中的衔接，重视语文学习习惯的</tspan><tspan x="1778.5" dy="14.35">培养，注重非智力因素的开发，提升学生良好</tspan><tspan x="1778.5" dy="14.35">语文学习的心理素质，培养学生思考问题的辩</tspan><tspan x="1778.5" dy="14.35">证性和周密性，持之以恒地做好提优补差工作</tspan><tspan x="1778.5" dy="14.35">，防止两极分化的过早出现。</tspan></text></g>
<g id="S7"><polygon class="n" points="1780,2872 1993,2872 2000,2985.5 1993,3098.9 1780,3098.9 1773,2985.5"/>
<text class="t" y="2890"><tspan x="1778.5">4、加强语文第二课堂的组织，充分发挥第二</tspan><tspan x="1778.5" dy="14.35">课堂的辅助作用。本学期安排四次语文实践活</tspan><tspan x="1778.5" dy="14.35">动。第一次"诗歌朗诵比赛"，目的是培养学生</tspan><tspan x="1778.5" dy="14.35">的文学素养，提高同学们的朗诵和欣赏诗词的</tspan><tspan x="1778.5" dy="14.35">水平。第二次"报刊剪摘、注评、展评活动"，</tspan><tspan x="1778.5" dy="14.35">目的是激发广泛阅读报刊、探求新知的兴趣，</tspan><tspan x="1778.5" dy="14.35">培养动脑动手的学习技能与习惯，创造互相帮</tspan><tspan x="1778.5" dy="14.35">助、团结协作的学习氛围。第三次"'校园心</tspan><tspan x="1778.5" dy="14.35">声'作文竞赛"，目的是激发同学们的写作兴</tspan><tspan x="1778.5" dy="14.35">趣，提高学生的写作能力，丰富校园文化氛围</tspan><tspan x="1778.5" dy="14.35">。第四次"'爱我校园，爱我中华'即兴演讲</tspan><tspan x="1778.5" dy="14.35">赛"，目的是锻炼学生采集与处理信息、综合</tspan><tspan x="1778.5" dy="14.35">分析、表达交流、探索创新等多项能力与素质</tspan><tspan x="1778.5" dy="14.35">，促进学生的全面发展，形成积极向上的思想</tspan><tspan x="1778.5" dy="14.35">文化与争鸣的良好风气。</tspan></text></g>

<g id="watermarks">
<text class="wm" transform="translate(380,705) rotate(-32)">树图 shutu.cn</text>
<text class="wm" transform="translate(1663,705) rotate(-32)">树图 shutu.cn</text>
<text class="wm" transform="translate(380,1695) rotate(-32)">树图 shutu.cn</text>
<text class="wm" transform="translate(1663,1695) rotate(-32)">树图 shutu.cn</text>
<text class="wm" transform="translate(380,2688) rotate(-32)">树图 shutu.cn</text>
<text class="wm" transform="translate(1663,2688) rotate(-32)">树图 shutu.cn</text>
</g>
</svg>
